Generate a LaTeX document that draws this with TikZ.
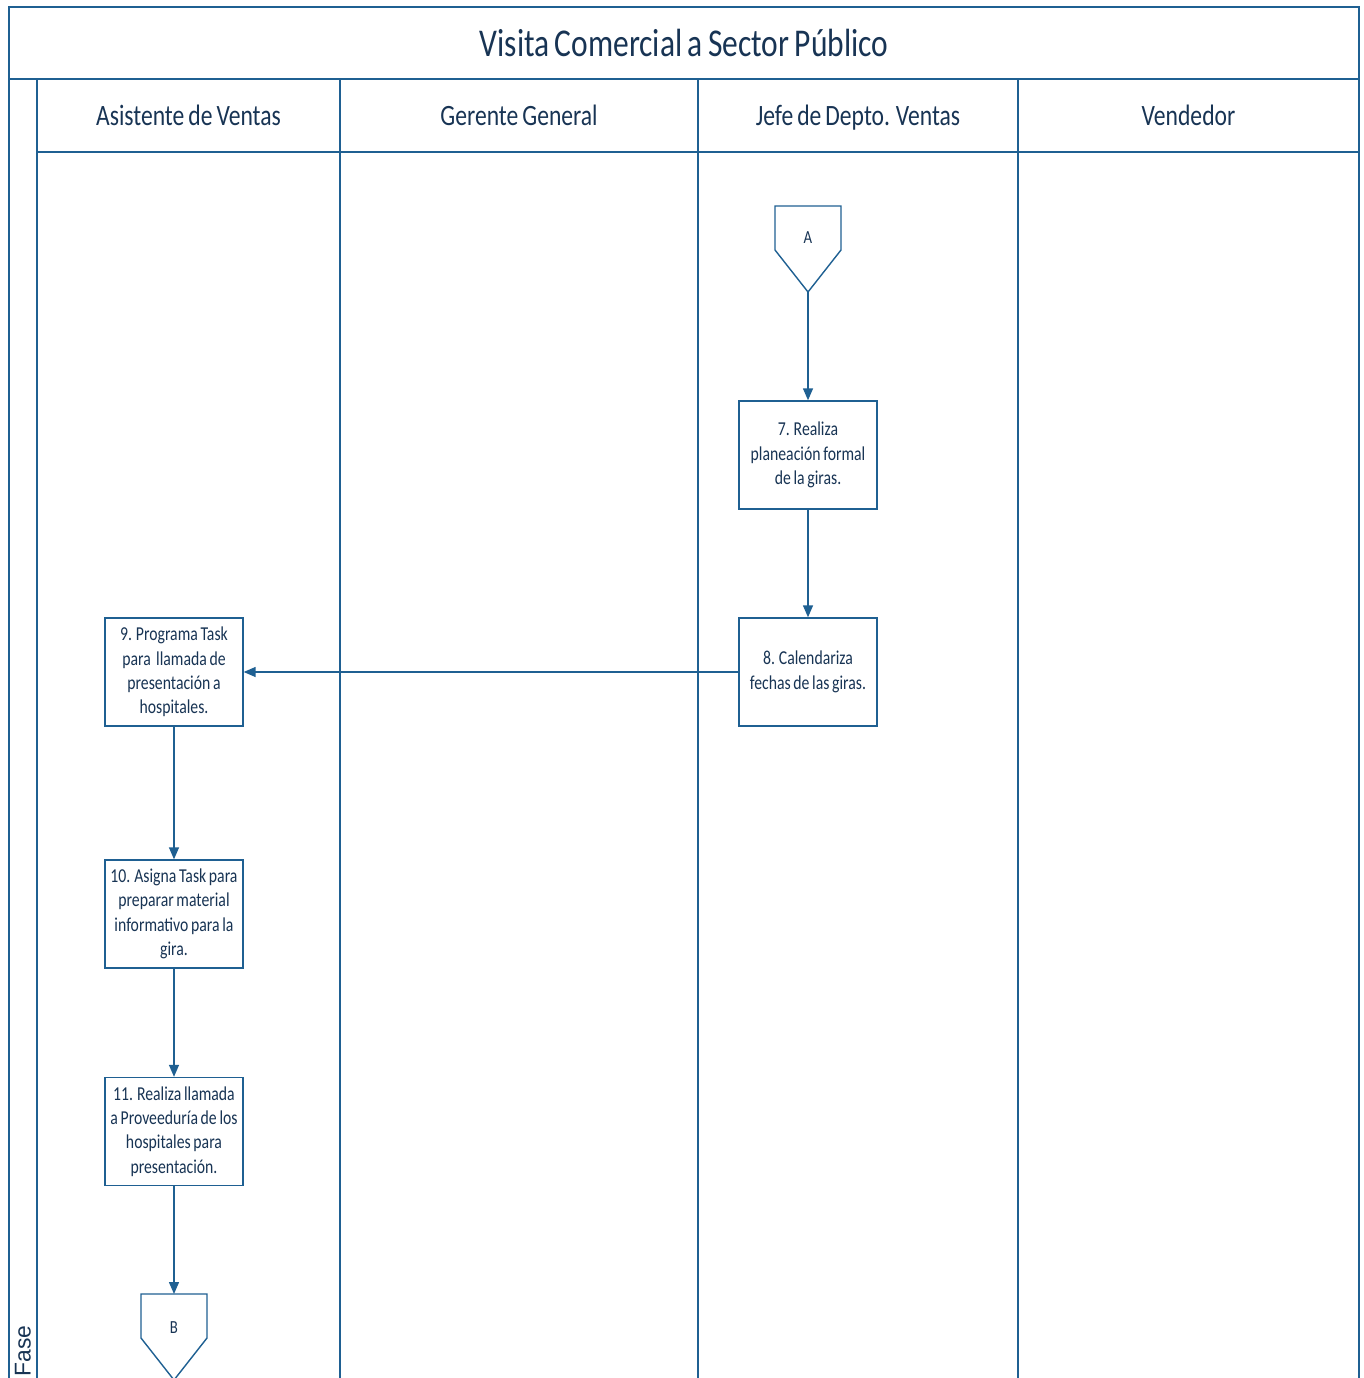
\documentclass[tikz,border=0pt]{standalone}
\usepackage{fontspec}
\setmainfont{Carlito}[FakeStretch=0.8, WordSpace=0.75]
\newfontfamily\fasefont{Liberation Sans}
\usetikzlibrary{arrows.meta}

\definecolor{laneblue}{RGB}{31,96,146}
\definecolor{inkblue}{RGB}{24,52,84}

\tikzset{
  frame/.style={draw=laneblue, line width=1.3pt},
  lane/.style={draw=laneblue, line width=0.9pt},
  task/.style={draw=laneblue, line width=0.8pt, fill=white, text=inkblue,
    minimum width=2.76cm, minimum height=2.16cm,
    align=center, inner sep=0pt, font=\fontsize{11.2}{13.9}\selectfont},
  lanehead/.style={text=inkblue, anchor=base, font=\fontsize{16.8}{20}\selectfont},
  offpage/.style={text=inkblue, font=\fontsize{10.5}{12}\selectfont},
  flow/.style={draw=laneblue, line width=0.8pt, -{Triangle[length=0.24cm, width=0.2cm]}},
}

\begin{document}
\begin{tikzpicture}[x=0.02cm, y=-0.02cm]
        % Page size
        \useasboundingbox (0,0) rectangle (1364,1378);
        \def\pagebottom{1378}

        % Pool frame and title band
        \draw[frame] (9,\pagebottom) -- (9,7) -- (1359,7) -- (1359,\pagebottom);
        \draw[frame] (9,79) -- (1359,79);
        \node[text=inkblue, font=\fontsize{22.4}{26}\selectfont] (title) at (684,43) {Visita Comercial a Sector Público};

        % Lanes
        \foreach \x in {37,340,698,1018} {
            \draw[lane] (\x,79) -- (\x,\pagebottom);
        }
        \draw[lane] (37,152) -- (1359,152);
        \node[lanehead] (asistente) at (188.5,126) {Asistente de Ventas};
        \node[lanehead] (gerente) at (519,126) {Gerente General};
        \node[lanehead] (jefe) at (858,126) {Jefe de Depto. Ventas};
        \node[lanehead] (vendedor) at (1188.5,126) {Vendedor};
        \node[text=inkblue, rotate=90, font=\fasefont\fontsize{13}{15}\selectfont] (fase) at (23,1351) {Fase};

        % Off-page connector A
        \draw[lane, line width=0.8pt] (775,206) -- (841,206) -- (841,250) -- (808,292) -- (775,250) -- cycle;
        \node[offpage] (conA) at (808,238) {A};
        \coordinate (conAtip) at (808,292);

        % Tasks
        \node[task] (t7) at (808,455) {7. Realiza\\planeación formal\\de la giras.};
        \node[task] (t8) at (808,672) {8. Calendariza\\fechas de las giras.};
        \node[task] (t9) at (174,672) {9. Programa Task\\para \ llamada de\\presentación a\\hospitales.};
        \node[task] (t10) at (174,914) {10. Asigna Task para\\preparar material\\informativo para la\\gira.};
        \node[task] (t11) at (174,1131.5) {11. Realiza llamada\\a Proveeduría de los\\hospitales para\\presentación.};

        % Off-page connector B
        \draw[lane, line width=0.8pt] (141,1294) -- (207,1294) -- (207,1338) -- (174,1380) -- (141,1338) -- cycle;
        \node[offpage] (conB) at (174,1328) {B};
        \coordinate (conBtop) at (174,1294);

        % Flow
        \draw[flow] (conAtip) -- (t7);
        \draw[flow] (t7) -- (t8);
        \draw[flow] (t8) -- (t9);
        \draw[flow] (t9) -- (t10);
        \draw[flow] (t10) -- (t11);
        \draw[flow] (t11) -- (conBtop);
\end{tikzpicture}
\end{document}
